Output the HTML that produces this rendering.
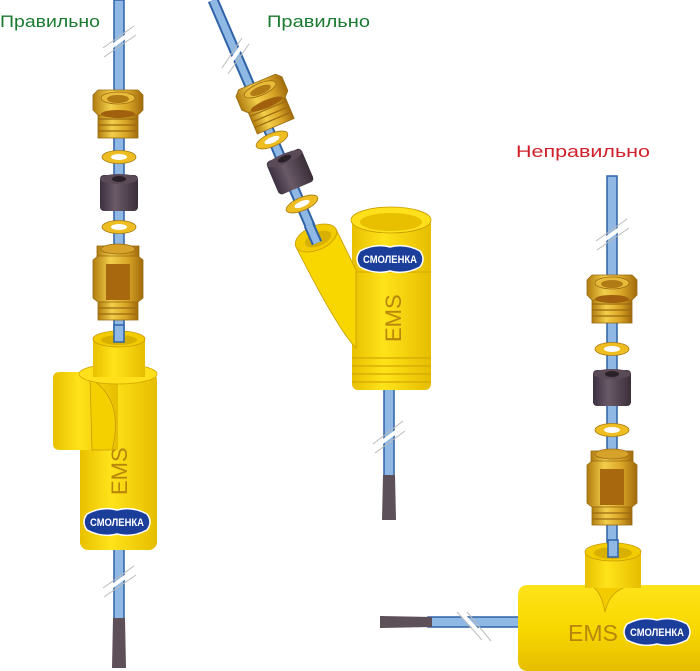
<!DOCTYPE html>
<html><head><meta charset="utf-8"><style>
html,body{margin:0;padding:0;background:#fff;width:700px;height:671px;overflow:hidden}
svg{display:block;font-family:"Liberation Sans","Noto Sans CJK SC",sans-serif}
</style></head><body>
<svg width="700" height="671" viewBox="0 0 700 671" xmlns="http://www.w3.org/2000/svg">
<defs>
<linearGradient id="gold" x1="0" x2="1" y1="0" y2="0">
<stop offset="0" stop-color="#b07c10"/><stop offset="0.35" stop-color="#f3cf4a"/><stop offset="0.7" stop-color="#d9a526"/><stop offset="1" stop-color="#a06a0c"/></linearGradient>
<linearGradient id="yel" x1="0" x2="1" y1="0" y2="0">
<stop offset="0" stop-color="#e8c000"/><stop offset="0.4" stop-color="#ffe31a"/><stop offset="1" stop-color="#e6bd00"/></linearGradient>
<linearGradient id="yelv" x1="0" x2="0" y1="0" y2="1">
<stop offset="0" stop-color="#ffe31a"/><stop offset="0.5" stop-color="#f8d800"/><stop offset="1" stop-color="#e6bd00"/></linearGradient>
<linearGradient id="dark" x1="0" x2="1"><stop offset="0" stop-color="#3c3040"/><stop offset="0.4" stop-color="#6a5a68"/><stop offset="1" stop-color="#3a2e38"/></linearGradient>
<g id="topnut">
 <rect x="-20" y="22" width="40" height="26" fill="url(#gold)" stroke="#9a6a10" stroke-width="0.8"/>
 <g stroke="#9a6a10" stroke-width="1.2"><line x1="-20" y1="29" x2="20" y2="29"/><line x1="-20" y1="35" x2="20" y2="35"/><line x1="-20" y1="41" x2="20" y2="41"/></g>
 <polygon points="-25,5 -20,0 20,0 25,5 25,20 20,25 -20,25 -25,20" fill="url(#gold)" stroke="#9a6a10" stroke-width="0.8"/>
 <ellipse cx="0" cy="24" rx="17" ry="4" fill="#a0600e"/>
 <ellipse cx="0" cy="8" rx="17" ry="6" fill="#e8bc3a" stroke="#9a6a10" stroke-width="0.8"/>
 <ellipse cx="0" cy="9" rx="11" ry="4" fill="#b07a14"/>
</g>
<g id="washer">
 <ellipse cx="0" cy="0" rx="17" ry="6.5" fill="#edbd22" stroke="#a87a10" stroke-width="0.8"/>
 <ellipse cx="0" cy="0" rx="8" ry="3" fill="#fff"/>
</g>
<g id="seal">
 <rect x="-19" y="0" width="38" height="36" rx="4" fill="url(#dark)"/>
 <ellipse cx="0" cy="4" rx="19" ry="5" fill="#5a4a58"/>
 <ellipse cx="0" cy="4" rx="7" ry="3" fill="#2a2028"/>
</g>
<g id="lownut">
 <rect x="-21" y="0" width="42" height="12" fill="url(#gold)" stroke="#9a6a10" stroke-width="0.8"/>
 <ellipse cx="0" cy="3" rx="17" ry="5" fill="#d6a22a" stroke="#9a6a10" stroke-width="0.8"/>
 <polygon points="-25,14 -20,10 20,10 25,14 25,52 20,56 -20,56 -25,52" fill="url(#gold)" stroke="#9a6a10" stroke-width="0.8"/>
 <polygon points="-12,18 12,18 12,54 -12,54" fill="#a8680e"/>
 <rect x="-20" y="56" width="40" height="18" fill="url(#gold)" stroke="#9a6a10" stroke-width="0.8"/>
 <g stroke="#9a6a10" stroke-width="1.2"><line x1="-20" y1="62" x2="20" y2="62"/><line x1="-20" y1="68" x2="20" y2="68"/></g>
</g>
<g id="logo">
 <path d="M-30,-8 Q-15,-16 0,-12 Q15,-16 30,-8 Q36,0 30,8 Q15,16 0,12 Q-15,16 -30,8 Q-36,0 -30,-8Z" fill="#1b3e9a" stroke="#fff" stroke-width="1.5"/>
 <text x="0" y="4" font-size="11" font-weight="bold" fill="#fff" text-anchor="middle" textLength="54" lengthAdjust="spacingAndGlyphs">СМОЛЕНКА</text>
</g>
</defs>

<text x="0" y="27" font-size="17" fill="#1a7a30" textLength="100" lengthAdjust="spacingAndGlyphs">Правильно</text>
<text x="267" y="27" font-size="17" fill="#1a7a30" textLength="103" lengthAdjust="spacingAndGlyphs">Правильно</text>
<text x="516" y="157" font-size="17" fill="#d0202a" textLength="134" lengthAdjust="spacingAndGlyphs">Неправильно</text>

<!-- LEFT assembly -->
<rect x="114" y="0" width="10" height="620" fill="#8fb8e4" stroke="#2f62a8" stroke-width="1.5"/>
<path d="M113,618 L125,618 L126,668 L112,668Z" fill="#5e5058"/>
<g stroke="#fff" stroke-width="4"><line x1="104" y1="52" x2="135" y2="30"/></g>
<g stroke="#bbb" stroke-width="1"><line x1="103" y1="48" x2="134" y2="26"/><line x1="104" y1="57" x2="136" y2="35"/></g>
<g stroke="#fff" stroke-width="4"><line x1="104" y1="592" x2="135" y2="570"/></g>
<g stroke="#bbb" stroke-width="1"><line x1="103" y1="588" x2="134" y2="566"/><line x1="104" y1="597" x2="136" y2="575"/></g>
<use href="#topnut" x="118" y="90"/>
<use href="#washer" x="119" y="157"/>
<use href="#seal" x="119" y="175"/>
<use href="#washer" x="119" y="227"/>
<use href="#lownut" x="118" y="246"/>
<rect x="80" y="372" width="77" height="178" rx="8" fill="url(#yel)"/>
<path d="M53,378 Q53,372 60,372 L118,372 L118,450 L60,450 Q53,450 53,444Z" fill="url(#yel)"/>
<path d="M90,378 Q125,400 112,450 L92,450Z" fill="#f5d000" stroke="#c89c00" stroke-width="0.8"/>
<ellipse cx="118" cy="374" rx="39" ry="10" fill="#ffe01a" stroke="#d4a800" stroke-width="0.8"/>
<rect x="93" y="337" width="52" height="40" fill="url(#yel)"/>
<ellipse cx="119" cy="339" rx="26" ry="8" fill="#f3cc00" stroke="#c89c00" stroke-width="0.8"/>
<ellipse cx="119" cy="340" rx="18" ry="5" fill="#d8b000"/>
<rect x="114" y="325" width="10" height="17" fill="#8fb8e4" stroke="#2f62a8" stroke-width="1.5"/>
<text transform="translate(127,495) rotate(-90)" font-size="22" fill="#b8860b">EMS</text>
<use href="#logo" x="117" y="522"/>

<!-- MIDDLE assembly -->
<line x1="213" y1="0" x2="316" y2="240" stroke="#2f62a8" stroke-width="11"/>
<line x1="213" y1="0" x2="316" y2="240" stroke="#8fb8e4" stroke-width="7"/>
<g stroke="#fff" stroke-width="4"><line x1="225" y1="70" x2="246" y2="40"/></g>
<g stroke="#bbb" stroke-width="1"><line x1="222" y1="68" x2="242" y2="38"/><line x1="228" y1="74" x2="249" y2="44"/></g>
<use href="#topnut" transform="translate(257,82) rotate(-23)"/>
<use href="#washer" transform="translate(272,140) rotate(-23)"/>
<use href="#seal" transform="translate(283,155) rotate(-23)"/>
<use href="#washer" transform="translate(302,204) rotate(-23)"/>
<rect x="384" y="385" width="10" height="92" fill="#8fb8e4" stroke="#2f62a8" stroke-width="1.5"/>
<path d="M383,475 L395,475 L396,520 L382,520Z" fill="#5e5058"/>
<g stroke="#fff" stroke-width="4"><line x1="374" y1="448" x2="404" y2="426"/></g>
<g stroke="#bbb" stroke-width="1"><line x1="373" y1="444" x2="403" y2="421"/><line x1="375" y1="453" x2="405" y2="431"/></g>
<rect x="352" y="218" width="79" height="172" rx="6" fill="url(#yel)"/>
<g stroke="#d4a800" stroke-width="1.2"><line x1="352" y1="358" x2="431" y2="358"/><line x1="352" y1="366" x2="431" y2="366"/><line x1="352" y1="374" x2="431" y2="374"/><line x1="352" y1="382" x2="431" y2="382"/></g>
<path d="M296,247 L336,229 L356,270 L356,348 Q338,330 296,247Z" fill="#f8d600" stroke="#c89c00" stroke-width="0.8"/>
<ellipse cx="316" cy="238" rx="22" ry="12" transform="rotate(-23 316 238)" fill="#f3cc00" stroke="#c89c00" stroke-width="0.8"/>
<ellipse cx="318" cy="239" rx="14" ry="7" transform="rotate(-23 318 239)" fill="#d8b000"/>
<line x1="309" y1="225" x2="317" y2="243" stroke="#2f62a8" stroke-width="11"/>
<line x1="309" y1="225" x2="317" y2="243" stroke="#8fb8e4" stroke-width="7"/>
<ellipse cx="391" cy="220" rx="40" ry="13" fill="#ffe01a" stroke="#c89c00" stroke-width="0.8"/>
<ellipse cx="391" cy="222" rx="31" ry="9" fill="#e8c000"/>
<line x1="356" y1="272" x2="431" y2="272" stroke="#d4a800" stroke-width="1"/>
<text transform="translate(401,342) rotate(-90)" font-size="22" fill="#b8860b">EMS</text>
<use href="#logo" x="390" y="259"/>

<!-- RIGHT assembly -->
<rect x="607" y="176" width="10" height="380" fill="#8fb8e4" stroke="#2f62a8" stroke-width="1.5"/>
<g stroke="#fff" stroke-width="4"><line x1="597" y1="245" x2="628" y2="223"/></g>
<g stroke="#bbb" stroke-width="1"><line x1="596" y1="241" x2="627" y2="219"/><line x1="597" y1="250" x2="629" y2="228"/></g>
<use href="#topnut" x="612" y="275"/>
<use href="#washer" x="612" y="349"/>
<use href="#seal" x="612" y="370"/>
<use href="#washer" x="612" y="430"/>
<use href="#lownut" x="612" y="451"/>
<rect x="428" y="617" width="95" height="10" fill="#8fb8e4" stroke="#2f62a8" stroke-width="1.5"/>
<path d="M380,616 L432,617 L432,627 L380,628Z" fill="#5e5058"/>
<g stroke="#fff" stroke-width="4"><line x1="462" y1="614" x2="486" y2="640"/></g>
<g stroke="#bbb" stroke-width="1"><line x1="457" y1="612" x2="482" y2="640"/><line x1="467" y1="612" x2="491" y2="641"/></g>
<path d="M528,585 L700,585 L700,671 L528,671 Q518,671 518,660 L518,596 Q518,585 528,585Z" fill="url(#yelv)"/>
<path d="M586,585 Q600,585 605,612 Q611,585 640,585Z" fill="#f3cc00" stroke="#c89c00" stroke-width="0.8"/>
<rect x="585" y="550" width="56" height="38" fill="url(#yel)"/>
<ellipse cx="613" cy="552" rx="28" ry="9" fill="#f3cc00" stroke="#c89c00" stroke-width="0.8"/>
<ellipse cx="613" cy="553" rx="19" ry="6" fill="#d8b000"/>
<rect x="608" y="540" width="10" height="17" fill="#8fb8e4" stroke="#2f62a8" stroke-width="1.5"/>
<text x="568" y="641" font-size="23" fill="#b8860b">EMS</text>
<use href="#logo" x="657" y="632"/>
</svg>
</body></html>
